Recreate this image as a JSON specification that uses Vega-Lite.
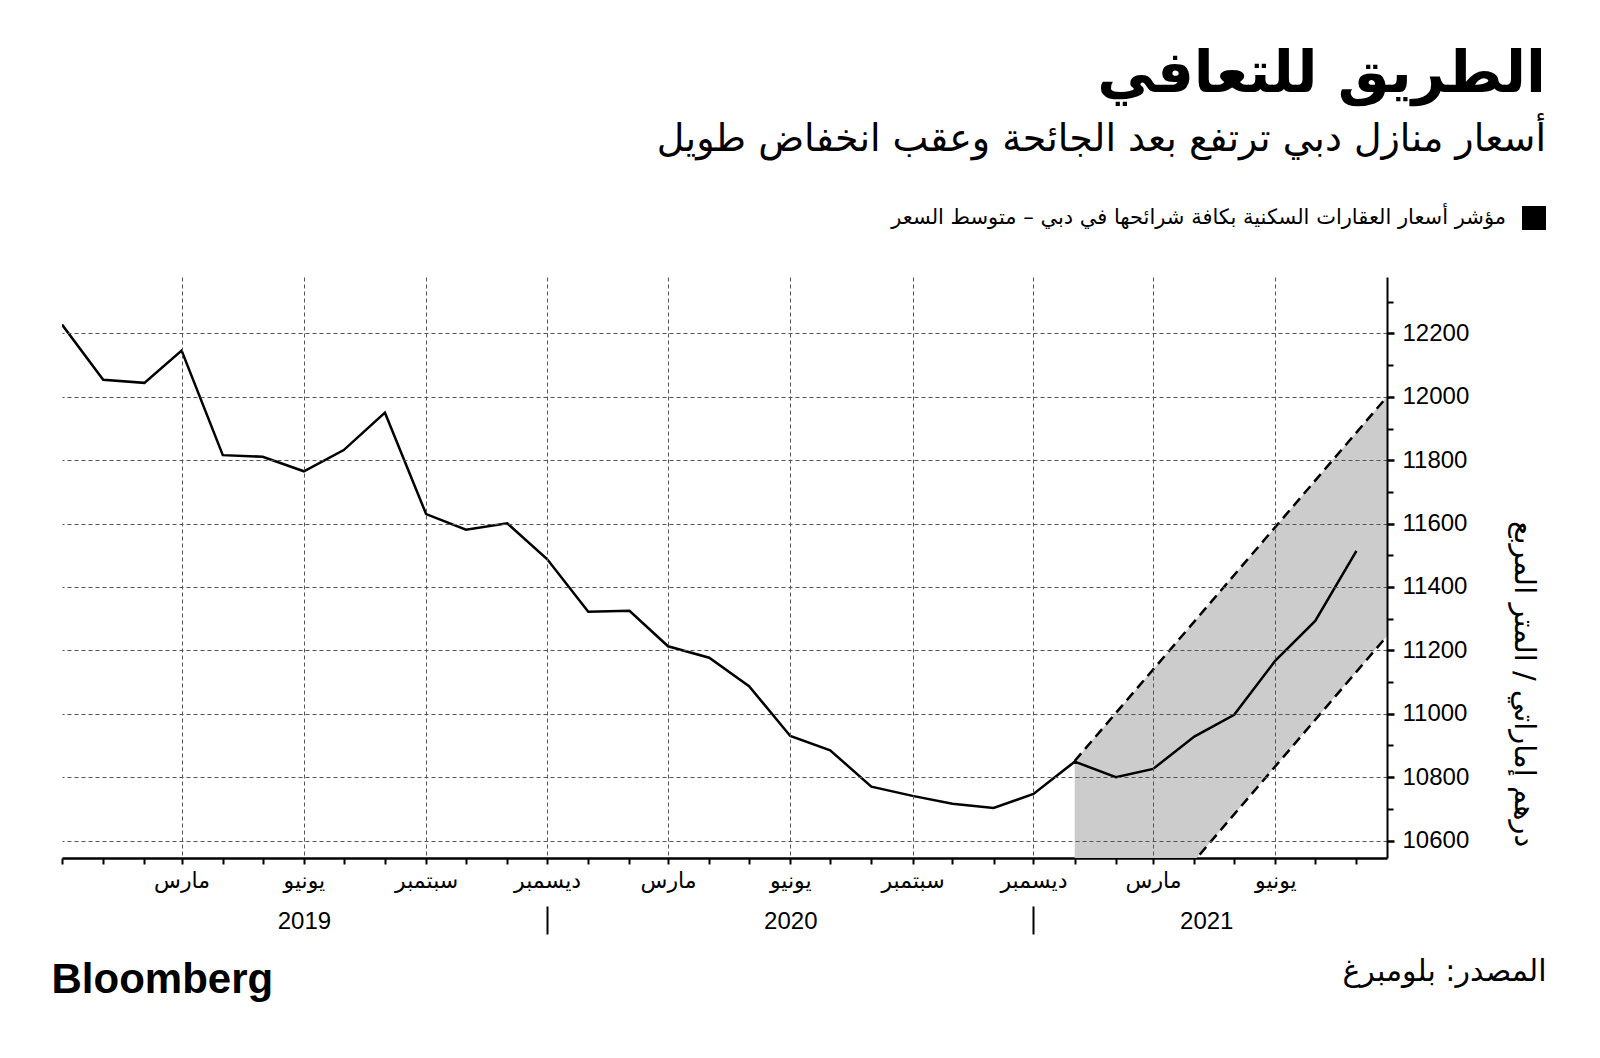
{
  "$schema": "https://vega.github.io/schema/vega-lite/v6.json",
  "width": 1325,
  "height": 581,
  "autosize": {"type": "none"},
  "padding": {"left": 62, "top": 277, "right": 213, "bottom": 200},
  "background": "#ffffff",
  "config": {"view": {"stroke": null}},
  "title": {
    "text": "الطريق للتعافي",
    "subtitle": "أسعار منازل دبي ترتفع بعد الجائحة وعقب انخفاض طويل",
    "anchor": "end",
    "frame": "group",
    "dx": 159,
    "offset": 47,
    "font": "DejaVu Sans",
    "fontSize": 58,
    "fontWeight": "bold",
    "color": "#000000",
    "subtitleFont": "DejaVu Sans",
    "subtitleFontSize": 38,
    "subtitleColor": "#000000",
    "subtitlePadding": 17
  },
  "datasets": {
    "main": [
      {"date": "2018-12-01T00:00:00", "value": 12228},
      {"date": "2019-01-01T00:00:00", "value": 12054},
      {"date": "2019-02-01T00:00:00", "value": 12044},
      {"date": "2019-03-01T00:00:00", "value": 12146},
      {"date": "2019-04-01T00:00:00", "value": 11816},
      {"date": "2019-05-01T00:00:00", "value": 11811},
      {"date": "2019-06-01T00:00:00", "value": 11765},
      {"date": "2019-07-01T00:00:00", "value": 11832},
      {"date": "2019-08-01T00:00:00", "value": 11950},
      {"date": "2019-09-01T00:00:00", "value": 11630},
      {"date": "2019-10-01T00:00:00", "value": 11581},
      {"date": "2019-11-01T00:00:00", "value": 11601},
      {"date": "2019-12-01T00:00:00", "value": 11488},
      {"date": "2020-01-01T00:00:00", "value": 11322},
      {"date": "2020-02-01T00:00:00", "value": 11325},
      {"date": "2020-03-01T00:00:00", "value": 11213},
      {"date": "2020-04-01T00:00:00", "value": 11177},
      {"date": "2020-05-01T00:00:00", "value": 11087},
      {"date": "2020-06-01T00:00:00", "value": 10930},
      {"date": "2020-07-01T00:00:00", "value": 10885},
      {"date": "2020-08-01T00:00:00", "value": 10770},
      {"date": "2020-09-01T00:00:00", "value": 10741},
      {"date": "2020-10-01T00:00:00", "value": 10716},
      {"date": "2020-11-01T00:00:00", "value": 10703},
      {"date": "2020-12-01T00:00:00", "value": 10747},
      {"date": "2021-01-01T00:00:00", "value": 10849},
      {"date": "2021-02-01T00:00:00", "value": 10800},
      {"date": "2021-03-01T00:00:00", "value": 10826},
      {"date": "2021-04-01T00:00:00", "value": 10928},
      {"date": "2021-05-01T00:00:00", "value": 10997},
      {"date": "2021-06-01T00:00:00", "value": 11168},
      {"date": "2021-07-01T00:00:00", "value": 11293},
      {"date": "2021-08-01T00:00:00", "value": 11514}
    ],
    "band": [
      {"date": "2021-01-01T00:00:00", "lower": 10096, "upper": 10851},
      {"date": "2021-08-24T00:00:00", "lower": 11245, "upper": 12000}
    ]
  },
  "resolve": {
    "scale": {"x": "shared", "y": "shared"},
    "axis": {"x": "independent", "y": "independent"}
  },
  "layer": [
    {
      "data": {"name": "band"},
      "mark": {"type": "area", "color": "#cccccc", "clip": true},
      "encoding": {
        "x": {
          "field": "date", "type": "temporal",
          "scale": {"domain": [{"year": 2018, "month": 12, "date": 1}, {"year": 2021, "month": 8, "date": 24}]},
          "axis": {
            "orient": "bottom",
            "title": null,
            "values": [
              {"year": 2019, "month": 3, "date": 1}, {"year": 2019, "month": 6, "date": 1},
              {"year": 2019, "month": 9, "date": 1}, {"year": 2019, "month": 12, "date": 1},
              {"year": 2020, "month": 3, "date": 1}, {"year": 2020, "month": 6, "date": 1},
              {"year": 2020, "month": 9, "date": 1}, {"year": 2020, "month": 12, "date": 1},
              {"year": 2021, "month": 3, "date": 1}, {"year": 2021, "month": 6, "date": 1}
            ],
            "labelExpr": "['يناير','فبراير','مارس','أبريل','مايو','يونيو','يوليو','أغسطس','سبتمبر','أكتوبر','نوفمبر','ديسمبر'][month(datum.value)]",
            "labelFont": "DejaVu Sans",
            "labelFontSize": 22,
            "labelColor": "#000000",
            "labelPadding": 12,
            "labelFlush": false,
            "labelOverlap": false,
            "ticks": false,
            "domain": false,
            "grid": true,
            "gridDash": [4, 3],
            "gridColor": "#555555",
            "gridWidth": 1,
            "zindex": 1
          }
        },
        "y": {
          "field": "lower", "type": "quantitative",
          "scale": {"domain": [10545, 12378], "nice": false, "zero": false},
          "axis": {
            "orient": "right",
            "values": [10600, 10800, 11000, 11200, 11400, 11600, 11800, 12000, 12200],
            "format": "d",
            "labelFont": "Liberation Sans",
            "labelFontSize": 24,
            "labelColor": "#000000",
            "labelPadding": 8,
            "labelFlush": false,
            "labelOverlap": false,
            "tickSize": 7,
            "tickWidth": 2.5,
            "tickColor": "#000000",
            "domain": true,
            "domainColor": "#000000",
            "domainWidth": 2,
            "grid": true,
            "gridDash": [4, 3],
            "gridColor": "#555555",
            "gridWidth": 1,
            "title": "درهم إماراتي / المتر المربع",
            "titleFont": "DejaVu Sans",
            "titleFontSize": 29,
            "titleFontWeight": "normal",
            "titleColor": "#000000",
            "titleAngle": 90,
            "titleAlign": "right",
            "titleBaseline": "middle",
            "titleX": 136,
            "titleY": 570,
            "titleLimit": 1000,
            "zindex": 1
          }
        },
        "y2": {"field": "upper"}
      }
    },
    {
      "data": {"name": "band"},
      "mark": {"type": "line", "color": "#000000", "strokeWidth": 2.5, "strokeDash": [10, 6], "clip": true},
      "encoding": {
        "x": {
          "field": "date", "type": "temporal",
          "axis": {
            "orient": "bottom",
            "title": null,
            "tickCount": {"interval": "month", "step": 1},
            "labels": false,
            "grid": false,
            "ticks": true,
            "tickSize": 6,
            "tickWidth": 2,
            "tickColor": "#000000",
            "domain": true,
            "domainColor": "#000000",
            "domainWidth": 2.5
          }
        },
        "y": {
          "field": "upper", "type": "quantitative",
          "axis": {
            "orient": "right",
            "title": null,
            "values": [10700, 10900, 11100, 11300, 11500, 11700, 11900, 12100, 12300],
            "labels": false,
            "grid": false,
            "domain": false,
            "ticks": true,
            "tickSize": 6,
            "tickWidth": 2,
            "tickColor": "#000000"
          }
        }
      }
    },
    {
      "data": {"name": "band"},
      "mark": {"type": "line", "color": "#000000", "strokeWidth": 2.5, "strokeDash": [10, 6], "clip": true},
      "encoding": {
        "x": {
          "field": "date", "type": "temporal",
          "axis": {
            "orient": "bottom",
            "values": [{"year": 2019, "month": 12, "date": 1}, {"year": 2020, "month": 12, "date": 1}],
            "offset": 48,
            "labels": false,
            "grid": false,
            "domain": false,
            "ticks": true,
            "tickSize": 28,
            "tickWidth": 2,
            "tickColor": "#000000",
            "title": "المصدر: بلومبرغ",
            "titleFont": "DejaVu Sans",
            "titleFontSize": 30,
            "titleFontWeight": "normal",
            "titleColor": "#000000",
            "titleAlign": "right",
            "titleBaseline": "alphabetic",
            "titleX": 1484,
            "titleY": 74
          }
        },
        "y": {"field": "lower", "type": "quantitative", "axis": null}
      }
    },
    {
      "data": {"name": "main"},
      "mark": {"type": "line", "strokeWidth": 2.5, "clip": true},
      "encoding": {
        "x": {
          "field": "date", "type": "temporal",
          "axis": {
            "orient": "bottom",
            "values": [{"year": 2019, "month": 6, "date": 1}, {"year": 2020, "month": 6, "date": 1}, {"year": 2021, "month": 4, "date": 10}],
            "labelExpr": "timeFormat(datum.value, '%Y')",
            "labelFont": "Liberation Sans",
            "labelFontSize": 24,
            "labelColor": "#000000",
            "labelPadding": 51,
            "labelFlush": false,
            "labelOverlap": false,
            "ticks": false,
            "domain": false,
            "grid": false,
            "title": "Bloomberg",
            "titleFont": "Liberation Sans",
            "titleFontSize": 42,
            "titleFontWeight": "bold",
            "titleColor": "#000000",
            "titleAlign": "left",
            "titleBaseline": "alphabetic",
            "titleX": -11,
            "titleY": 134
          }
        },
        "y": {"field": "value", "type": "quantitative", "axis": null},
        "color": {
          "datum": "مؤشر أسعار العقارات السكنية بكافة شرائحها في دبي – متوسط السعر",
          "scale": {"range": ["#000000"]},
          "legend": {
            "orient": "none",
            "legendX": 1460,
            "legendY": -71,
            "title": null,
            "padding": 0,
            "symbolType": "square",
            "symbolSize": 576,
            "labelAlign": "right",
            "labelOffset": -40,
            "labelFont": "DejaVu Sans",
            "labelFontSize": 21,
            "labelColor": "#000000",
            "labelLimit": 1000,
            "encode": {
              "symbols": {"update": {"fill": {"value": "#000000"}, "stroke": {"value": "#000000"}, "strokeWidth": {"value": 0}}}
            }
          }
        }
      }
    }
  ]
}
